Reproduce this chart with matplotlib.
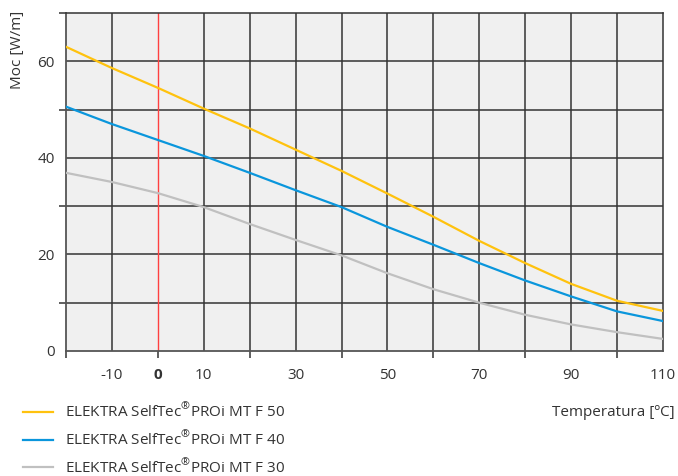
import matplotlib.pyplot as plt
from matplotlib.ticker import FixedLocator, NullFormatter, FixedFormatter

plt.rcParams['font.family'] = ['Open Sans', 'DejaVu Sans']
plt.rcParams['mathtext.fontset'] = 'custom'
plt.rcParams['mathtext.rm'] = 'Open Sans'

temps = [-20, -10, 0, 10, 20, 30, 40, 50, 60, 70, 80, 90, 100, 110]
f50 = [63.0, 58.6, 54.5, 50.2, 46.1, 41.7, 37.3, 32.6, 27.8, 22.8, 18.2, 13.9, 10.4, 8.3]
f40 = [50.6, 47.0, 43.7, 40.4, 36.9, 33.3, 29.8, 25.7, 22.0, 18.2, 14.6, 11.3, 8.2, 6.2]
f30 = [36.9, 35.0, 32.7, 29.8, 26.3, 23.0, 19.8, 16.1, 12.8, 10.0, 7.5, 5.5, 3.9, 2.5]

series_names = [
    r'ELEKTRA SelfTec$^{\mathrm{®}}$PROi MT F 50',
    r'ELEKTRA SelfTec$^{\mathrm{®}}$PROi MT F 40',
    r'ELEKTRA SelfTec$^{\mathrm{®}}$PROi MT F 30',
]
colors = ['#ffc20e', '#0a96dc', '#c0c0c0']

x_labels = ['-10', '0', '10', '30', '50', '70', '90', '110']
x_label_pos = [-10, 0, 10, 30, 50, 70, 90, 110]
y_labels = ['0', '20', '40', '60']
y_label_pos = [0, 20, 40, 60]

fig = plt.figure(figsize=(6.78, 4.76), dpi=100)
ax = fig.add_axes([66 / 678, 1 - 351 / 476, 597 / 678, 338 / 476])
ax.set_facecolor('#f0f0f0')

# gridlines every 10
for gx in range(-10, 110, 10):
    if gx != 0:
        ax.axvline(gx, color='#333333', lw=1.1, zorder=1)
for gy in range(10, 70, 10):
    ax.axhline(gy, color='#333333', lw=1.1, zorder=1)
ax.axvline(0, color='#ff4040', lw=1.0, zorder=2)

for ys, name, c in zip([f50, f40, f30], series_names, colors):
    ax.plot(temps, ys, color=c, lw=1.6, label=name, zorder=3)

ax.set_xlim(-20, 110)
ax.set_ylim(0, 70)

# major ticks: short outward marks, no labels
ax.xaxis.set_major_locator(FixedLocator([-20, 0, 20, 40, 60, 80, 100]))
ax.xaxis.set_major_formatter(NullFormatter())
ax.yaxis.set_major_locator(FixedLocator([10, 30, 50, 70]))
ax.yaxis.set_major_formatter(NullFormatter())
ax.tick_params(which='major', length=5, width=1.1, color='#333333')

# minor ticks carry the labels
ax.xaxis.remove_overlapping_locs = False
ax.yaxis.remove_overlapping_locs = False
ax.xaxis.set_minor_locator(FixedLocator(x_label_pos))
ax.xaxis.set_minor_formatter(FixedFormatter(x_labels))
ax.yaxis.set_minor_locator(FixedLocator(y_label_pos))
ax.yaxis.set_minor_formatter(FixedFormatter(y_labels))
ax.tick_params(axis='x', which='minor', length=0, pad=12, labelsize=11, labelcolor='#333333')
ax.tick_params(axis='y', which='minor', length=0, pad=8, labelsize=11, labelcolor='#333333')
fig.canvas.draw()
for lab in ax.xaxis.get_minorticklabels():
    if lab.get_text() == '0':
        lab.set_fontweight('bold')

for side in ['top', 'right']:
    ax.spines[side].set_color('#333333')
    ax.spines[side].set_linewidth(1.1)
for side in ['left', 'bottom']:
    ax.spines[side].set_color('#555555')
    ax.spines[side].set_linewidth(1.3)

fig.text(18 / 678, 1 - 50 / 476, 'Moc [W/m]', rotation=90, ha='center', va='center',
         fontsize=11, color='#333333')
fig.text(675 / 678, 1 - 412 / 476, 'Temperatura [ºC]', ha='right', va='center',
         fontsize=11, color='#333333')

fig.legend(loc='upper left', bbox_to_anchor=(12 / 678, 1 - 392 / 476), frameon=False,
           fontsize=11, handlelength=2.0, handletextpad=0.8, labelspacing=0.62,
           labelcolor='#333333', borderpad=0.2)

fig.savefig('out.png', dpi=100)
